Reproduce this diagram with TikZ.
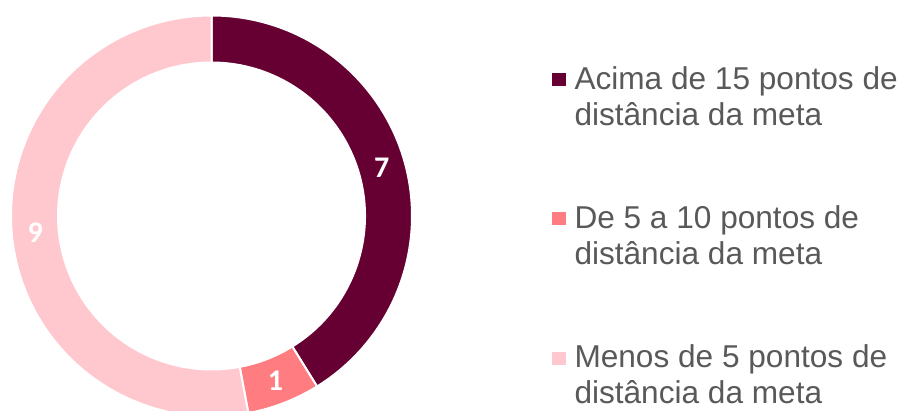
\documentclass[tikz,border=0pt]{standalone}
\usepackage{fontspec}
\setmainfont{Liberation Sans}
\newfontfamily\carl{Carlito}
\usetikzlibrary{calc}

\definecolor{acima}{HTML}{660033}
\definecolor{cinco}{HTML}{FF7C80}
\definecolor{menos}{HTML}{FFC7CE}
\definecolor{legtxt}{HTML}{595959}

\begin{document}
\begin{tikzpicture}[x=1pt,y=1pt,
  fatia/.style={draw=white,line width=2pt,line join=round},
  valor/.style={text=white,font=\carl\bfseries\fontsize{30}{30}\selectfont,inner sep=0},
  caixa/.style={minimum size=13.5pt,inner sep=0},
  legenda/.style={anchor=base west,align=left,inner sep=0,text=legtxt,font=\fontsize{31.6}{36}\selectfont}]
\useasboundingbox (0,0) rectangle (903,-411);
\coordinate (c) at (211.5,-216);
% rosca
\foreach \a/\b/\col/\v/\nm in {90/-58.235/acima/7/va, -58.235/-79.412/cinco/1/vb, -79.412/-270/menos/9/vc}{
  \filldraw[fatia,fill=\col] ($(c)+(\a:200.5)$) arc[start angle=\a,end angle=\b,radius=200.5]
    -- ($(c)+(\b:153.5)$) arc[start angle=\b,end angle=\a,radius=153.5] -- cycle;
  \node[valor] (\nm) at ($(c)+({(\a+\b)/2}:177)$) {\v};
}
% legenda (base = baseline of the second line)
\node[caixa,fill=acima] (qa) at (559,-79.7) {};
\node[legenda] (ta) at (574.3,-125.3) {Acima de 15 pontos de\\distância da meta};
\node[caixa,fill=cinco] (qb) at (559,-218.7) {};
\node[legenda] (tb) at (574.3,-264.4) {De 5 a 10 pontos de\\distância da meta};
\node[caixa,fill=menos] (qc) at (559,-358.5) {};
\node[legenda] (tc) at (574.3,-403.7) {Menos de 5 pontos de\\distância da meta};
\end{tikzpicture}
\end{document}
